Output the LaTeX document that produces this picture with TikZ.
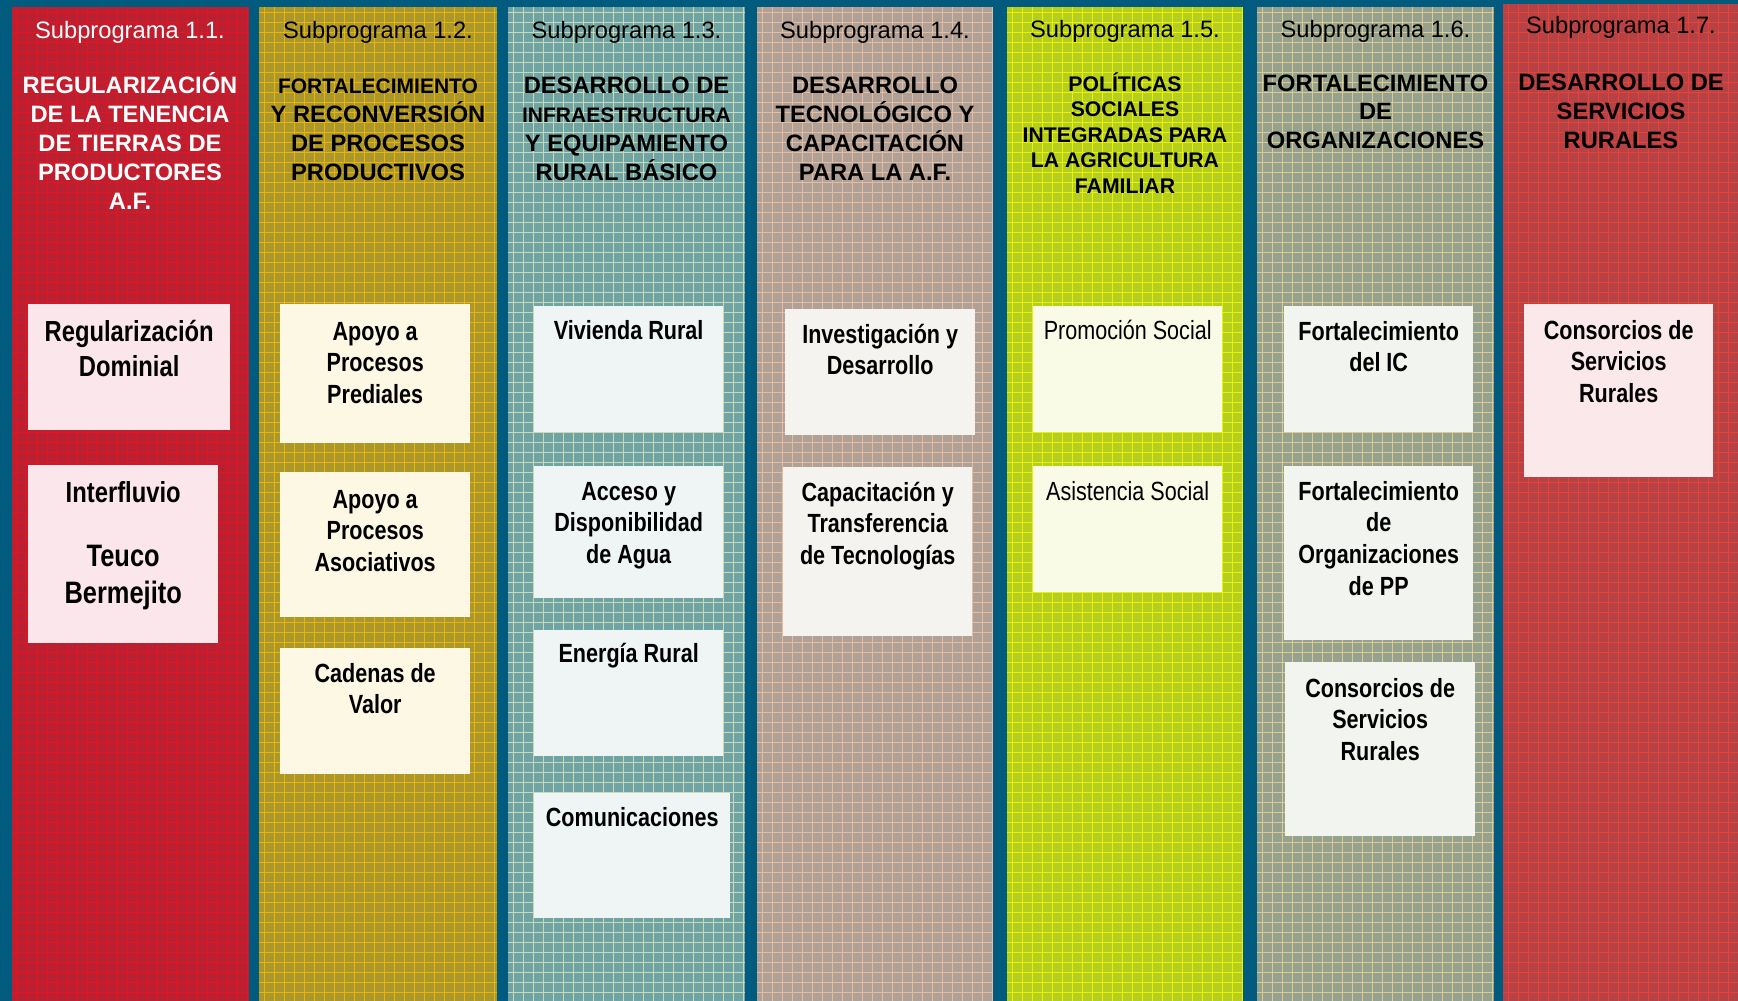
\documentclass[tikz,border=0pt]{standalone}
\usepackage{fontspec}
\setmainfont{Liberation Sans}
\newfontfamily\narrowfont[FakeStretch=0.82]{Liberation Sans}
\usetikzlibrary{positioning}

\definecolor{bgblue}{RGB}{0,91,127}
\definecolor{c1bg}{RGB}{185,32,50}   \definecolor{c1ln}{RGB}{230,20,30}
\definecolor{c2bg}{RGB}{172,152,42}  \definecolor{c2ln}{RGB}{235,180,10}
\definecolor{c3bg}{RGB}{112,163,163} \definecolor{c3ln}{RGB}{200,218,182}
\definecolor{c4bg}{RGB}{176,160,150} \definecolor{c4ln}{RGB}{228,188,160}
\definecolor{c5bg}{RGB}{182,206,30}  \definecolor{c5ln}{RGB}{235,242,10}
\definecolor{c6bg}{RGB}{150,162,142} \definecolor{c6ln}{RGB}{220,202,145}
\definecolor{c7bg}{RGB}{182,66,70}   \definecolor{c7ln}{RGB}{232,66,55}
\definecolor{c1box}{RGB}{250,230,235}
\definecolor{c2box}{RGB}{252,248,228}
\definecolor{c3box}{RGB}{238,245,244}
\definecolor{c4box}{RGB}{245,243,240}
\definecolor{c5box}{RGB}{249,251,230}
\definecolor{c6box}{RGB}{242,244,240}
\definecolor{c7box}{RGB}{250,232,235}

\newcommand\tallstrut{\rule{0pt}{24pt}}

\begin{document}
\begin{tikzpicture}[x=1pt, y=-1pt,
    subhead/.style={font=\fontsize{23.7}{28}\selectfont, anchor=base, inner sep=0pt},
    colhead/.style={font=\fontsize{23.7}{29}\selectfont\bfseries, align=center,
      anchor=north, inner sep=0pt},
    itembox/.style={fill=#1, anchor=north west, inner sep=0pt,
      minimum width=190pt, minimum height=126pt},
    itemtext/.style={font=\narrowfont\bfseries\fontsize{26.3}{31.6}\selectfont,
      align=center, inner sep=0pt}]
  \useasboundingbox (0,0) rectangle (1738,1001);
  \fill[bgblue] (0,0) rectangle (1738,1001);

  % columns with their grid
  \foreach \xa/\xb/\yt/\cb/\cl in {12/249/7/c1bg/c1ln, 259/497/7/c2bg/c2ln,
      508/745/7/c3bg/c3ln, 757/993/7/c4bg/c4ln, 1007/1243/7/c5bg/c5ln,
      1257/1494/7/c6bg/c6ln, 1503/1738/4/c7bg/c7ln} {
    \begin{scope}
      \clip (\xa,\yt) rectangle (\xb,1001);
      \fill[\cb] (\xa,\yt) rectangle (\xb,1001);
      \foreach \yy in {12,22,...,1001}
        \draw[\cl, line width=1pt] (\xa,\yy) -- (\xb,\yy);
      \foreach \k in {0,...,24}
        \draw[\cl, line width=1pt] ({\xa+5+10*\k},\yt) -- ({\xa+5+10*\k},1001);
    \end{scope}
  }

  % headers
  \node[subhead, white] (sub1) at (130,38) {Subprograma 1.1.};
  \node[subhead] (sub2) at (378,38) {Subprograma 1.2.};
  \node[subhead] (sub3) at (626.5,38) {Subprograma 1.3.};
  \node[subhead] (sub4) at (875,38) {Subprograma 1.4.};
  \node[subhead] (sub5) at (1125,37) {Subprograma 1.5.};
  \node[subhead] (sub6) at (1375.5,37) {Subprograma 1.6.};
  \node[subhead] (sub7) at (1621,34) {Subprograma 1.7.};

  \node[colhead, white] (t1) at (130,69)
    {\tallstrut REGULARIZACIÓN\\DE LA TENENCIA\\DE TIERRAS DE\\PRODUCTORES\\A.F.};
  \node[colhead] (t2) at (378,69)
    {\tallstrut{\fontsize{21}{29}\selectfont FORTALECIMIENTO}\\Y RECONVERSIÓN\\DE PROCESOS\\PRODUCTIVOS};
  \node[colhead] (t3) at (626.5,69)
    {\tallstrut DESARROLLO DE\\{\fontsize{21}{29}\selectfont INFRAESTRUCTURA}\\Y EQUIPAMIENTO\\RURAL BÁSICO};
  \node[colhead] (t4) at (875,69)
    {\tallstrut DESARROLLO\\TECNOLÓGICO Y\\CAPACITACIÓN\\PARA LA A.F.};
  \node[colhead, font=\fontsize{21.2}{25.5}\selectfont\bfseries] (t5) at (1125,67)
    {\tallstrut POLÍTICAS\\SOCIALES\\INTEGRADAS PARA\\LA AGRICULTURA\\FAMILIAR};
  \node[colhead, font=\fontsize{23.7}{28.5}\selectfont\bfseries] (t6) at (1375.5,67)
    {\tallstrut FORTALECIMIENTO\\DE\\ORGANIZACIONES};
  \node[colhead] (t7) at (1621,66)
    {\tallstrut DESARROLLO DE\\SERVICIOS\\RURALES};

  % subprograma 1.1
  \node[itembox=c1box, minimum width=202pt] (regdom) at (28,304) {};
  \node[itemtext, font=\narrowfont\bfseries\fontsize{29}{35}\selectfont,
    below=13pt of regdom.north] (regdom-t) {\tallstrut Regularización\\Dominial};
  \node[itembox=c1box, minimum height=178pt] (interfl) at (28,465) {};
  \node[itemtext, font=\narrowfont\bfseries\fontsize{29}{35}\selectfont,
    below=13pt of interfl.north] (interfl-t) {\tallstrut Interfluvio};
  \node[itemtext, font=\narrowfont\bfseries\fontsize{31}{37}\selectfont,
    below=77pt of interfl.north] (teuco-t) {\tallstrut Teuco\\Bermejito};

  % subprograma 1.2
  \node[itembox=c2box, minimum height=139pt] (predial) at (280,304) {};
  \node[itemtext, below=12pt of predial.north] (predial-t) {\tallstrut Apoyo a\\Procesos\\Prediales};
  \node[itembox=c2box, minimum height=145pt] (asoc) at (280,472) {};
  \node[itemtext, below=12pt of asoc.north] (asoc-t) {\tallstrut Apoyo a\\Procesos\\Asociativos};
  \node[itembox=c2box] (cadenas) at (280,648) {};
  \node[itemtext, below=10pt of cadenas.north] (cadenas-t) {\tallstrut Cadenas de\\Valor};

  % subprograma 1.3
  \node[itembox=c3box, minimum width=189pt] (vivienda) at (534,306) {};
  \node[itemtext, below=9pt of vivienda.north] (vivienda-t) {\tallstrut Vivienda Rural};
  \node[itembox=c3box, minimum width=189pt, minimum height=132pt] (agua) at (534,466) {};
  \node[itemtext, below=10pt of agua.north] (agua-t) {\tallstrut Acceso y\\Disponibilidad\\de Agua};
  \node[itembox=c3box, minimum width=189pt] (energia) at (534,630) {};
  \node[itemtext, below=8pt of energia.north] (energia-t) {\tallstrut Energía Rural};
  \node[itembox=c3box, minimum width=196pt, minimum height=125pt] (comunic) at (534,793) {};
  \node[itemtext, below=9pt of comunic.north] (comunic-t) {\tallstrut Comunicaciones};

  % subprograma 1.4
  \node[itembox=c4box] (invest) at (785,309) {};
  \node[itemtext, below=10pt of invest.north] (invest-t) {\tallstrut Investigación y\\Desarrollo};
  \node[itembox=c4box, minimum width=189pt, minimum height=169pt] (capac) at (783,467) {};
  \node[itemtext, below=10pt of capac.north] (capac-t) {\tallstrut Capacitación y\\Transferencia\\de Tecnologías};

  % subprograma 1.5
  \node[itembox=c5box, minimum width=189pt] (promo) at (1033,306) {};
  \node[itemtext, font=\narrowfont\fontsize{26.3}{31.6}\selectfont,
    below=9pt of promo.north] (promo-t) {\tallstrut Promoción Social};
  \node[itembox=c5box, minimum width=189pt] (asist) at (1033,466) {};
  \node[itemtext, font=\narrowfont\fontsize{26.3}{31.6}\selectfont,
    below=10pt of asist.north] (asist-t) {\tallstrut Asistencia Social};

  % subprograma 1.6
  \node[itembox=c6box, minimum width=189pt] (fortic) at (1284,306) {};
  \node[itemtext, below=10pt of fortic.north] (fortic-t) {\tallstrut Fortalecimiento\\del IC};
  \node[itembox=c6box, minimum width=189pt, minimum height=174pt] (fortorg) at (1284,466) {};
  \node[itemtext, below=10pt of fortorg.north] (fortorg-t)
    {\tallstrut Fortalecimiento\\de\\Organizaciones\\de PP};
  \node[itembox=c6box, minimum height=174pt] (consor6) at (1285,662) {};
  \node[itemtext, below=11pt of consor6.north] (consor6-t) {\tallstrut Consorcios de\\Servicios\\Rurales};

  % subprograma 1.7
  \node[itembox=c7box, minimum width=189pt, minimum height=173pt] (consor7) at (1524,304) {};
  \node[itemtext, below=11pt of consor7.north] (consor7-t) {\tallstrut Consorcios de\\Servicios\\Rurales};
\end{tikzpicture}
\end{document}
